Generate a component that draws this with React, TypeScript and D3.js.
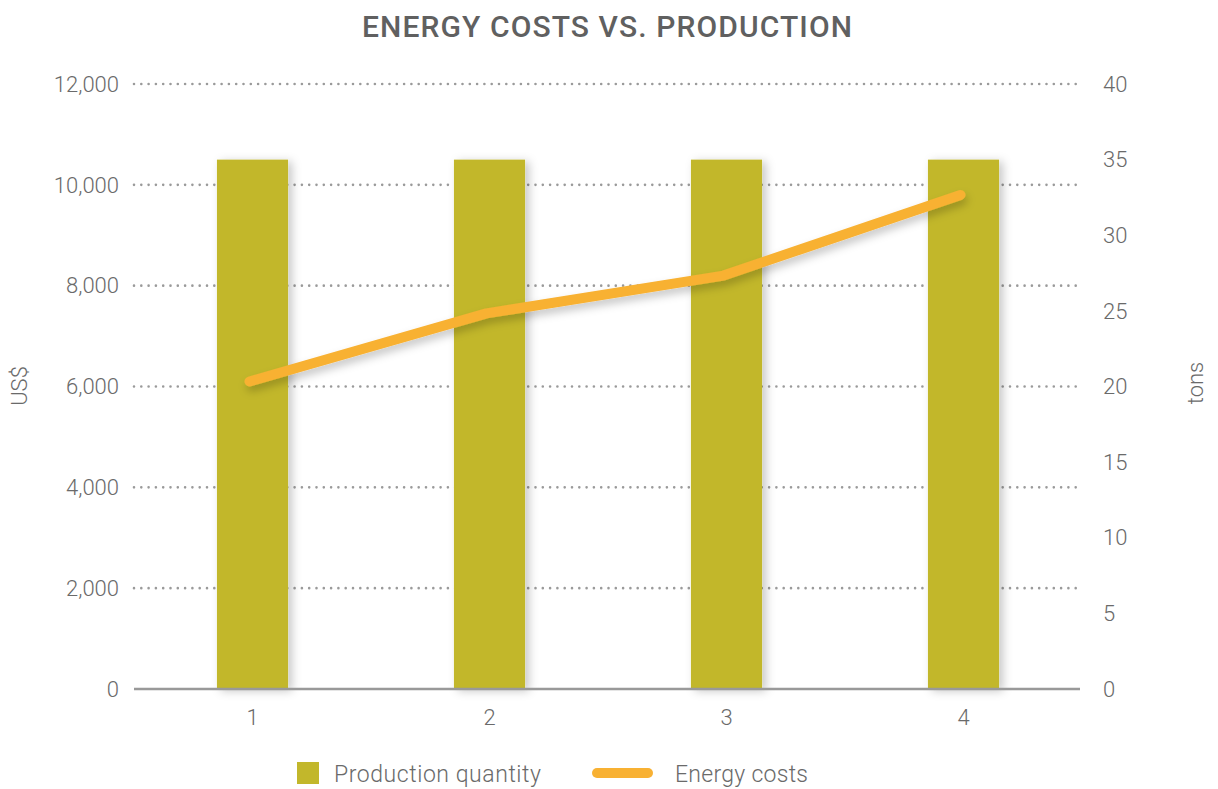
import React from "react";
import * as d3 from "d3";

const periods = ["1", "2", "3", "4"];
const productionTons = [35, 35, 35, 35];
const energyCostsUsd = [6100, 7450, 8200, 9800];
const leftTicks = [0, 2000, 4000, 6000, 8000, 10000, 12000];
const rightTicks = [0, 5, 10, 15, 20, 25, 30, 35, 40];

const W = 1218;
const H = 789;
const FONT = "Roboto, 'Open Sans', sans-serif";
const BAR_COLOR = "#C2B72B";
const LINE_COLOR = "#F8B133";
const TEXT_COLOR = "#6a6a6a";

export default function App() {
  const x = d3
    .scaleBand<string>()
    .domain(periods)
    .range([134, 1082])
    .paddingInner(0.7)
    .paddingOuter(0.35);
  const yLeft = d3.scaleLinear().domain([0, 12000]).range([689, 84]);
  const yRight = d3.scaleLinear().domain([0, 40]).range([689, 84]);
  const fmt = d3.format(",");

  const line = d3
    .line<number>()
    .x((_, i) => (x(periods[i]) as number) + x.bandwidth() / 2 - 3)
    .y((d) => yLeft(d));

  return (
    <svg
      width={W}
      height={H}
      viewBox={`0 0 ${W} ${H}`}
      style={{ position: "absolute", left: 0, top: 0, background: "#fff" }}
      fontFamily={FONT}
    >
      <defs>
        <filter id="barShadow" x="-40%" y="-10%" width="180%" height="120%">
          <feDropShadow dx="4" dy="2" stdDeviation="5" floodColor="#000" floodOpacity="0.22" />
        </filter>
        <filter id="lineShadow" x="-10%" y="-30%" width="120%" height="160%">
          <feDropShadow dx="2" dy="5" stdDeviation="4" floodColor="#000" floodOpacity="0.22" />
        </filter>
      </defs>

      <text
        x={607}
        y={37}
        textAnchor="middle"
        fontSize={30}
        fontWeight={500}
        fill="#606060"
        textLength={490}
      >
        ENERGY COSTS VS. PRODUCTION
      </text>

      {/* dotted horizontal gridlines */}
      {leftTicks
        .filter((t) => t > 0)
        .map((t) => (
          <line
            key={`g${t}`}
            x1={134}
            x2={1082}
            y1={yLeft(t)}
            y2={yLeft(t)}
            stroke="#9a9a9a"
            strokeWidth={2.6}
            strokeLinecap="round"
            strokeDasharray="0 7.3"
          />
        ))}

      {/* left axis labels */}
      {leftTicks.map((t) => (
        <text
          key={`l${t}`}
          x={119}
          y={yLeft(t)}
          dy="0.35em"
          textAnchor="end"
          fontSize={22}
          fontWeight={300}
          fill={TEXT_COLOR}
        >
          {fmt(t)}
        </text>
      ))}

      {/* right axis labels */}
      {rightTicks.map((t) => (
        <text
          key={`r${t}`}
          x={1103}
          y={yRight(t)}
          dy="0.35em"
          textAnchor="start"
          fontSize={22}
          fontWeight={300}
          fill={TEXT_COLOR}
        >
          {t}
        </text>
      ))}

      <text
        transform="translate(27,386) rotate(-90)"
        textAnchor="middle"
        fontSize={22}
        fontWeight={300}
        fill={TEXT_COLOR}
      >
        US$
      </text>
      <text
        transform="translate(1203,383) rotate(-90)"
        textAnchor="middle"
        fontSize={22}
        fontWeight={300}
        fill={TEXT_COLOR}
      >
        tons
      </text>

      {/* production bars on the right (tons) axis */}
      <g filter="url(#barShadow)">
        {productionTons.map((v, i) => (
          <rect
            key={`b${i}`}
            x={x(periods[i])}
            y={yRight(v)}
            width={x.bandwidth()}
            height={yRight(0) - yRight(v)}
            fill={BAR_COLOR}
          />
        ))}
      </g>

      {/* baseline */}
      <line x1={134} x2={1080} y1={689} y2={689} stroke="#999" strokeWidth={2.5} />

      {/* x labels */}
      {periods.map((p) => (
        <text
          key={`x${p}`}
          x={(x(p) as number) + x.bandwidth() / 2}
          y={717}
          dy="0.35em"
          textAnchor="middle"
          fontSize={22}
          fontWeight={300}
          fill={TEXT_COLOR}
        >
          {p}
        </text>
      ))}

      {/* energy cost line on the left (US$) axis */}
      <path
        d={line(energyCostsUsd) || ""}
        fill="none"
        stroke={LINE_COLOR}
        strokeWidth={10}
        strokeLinecap="round"
        strokeLinejoin="round"
        filter="url(#lineShadow)"
      />

      {/* legend */}
      <rect x={297} y={762} width={22} height={22} fill={BAR_COLOR} />
      <text
        x={334}
        y={774}
        dy="0.35em"
        fontSize={23}
        fontWeight={300}
        fill={TEXT_COLOR}
        textLength={207}
      >
        Production quantity
      </text>
      <line
        x1={597}
        x2={648}
        y1={773}
        y2={773}
        stroke={LINE_COLOR}
        strokeWidth={10}
        strokeLinecap="round"
      />
      <text
        x={675}
        y={774}
        dy="0.35em"
        fontSize={23}
        fontWeight={300}
        fill={TEXT_COLOR}
        textLength={133}
      >
        Energy costs
      </text>
    </svg>
  );
}
